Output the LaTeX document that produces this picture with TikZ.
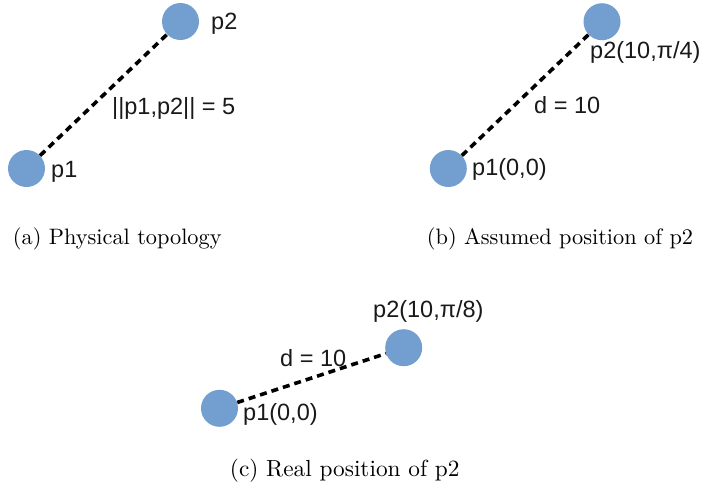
\documentclass[tikz,border=0pt]{standalone}
\usepackage{fontspec}
\newfontfamily\labfont{Liberation Sans}
\definecolor{nodeblue}{HTML}{729FCF}
\begin{document}
\begin{tikzpicture}[x=1pt,y=-1pt,
  ptnode/.style={circle,fill=nodeblue,minimum size=37pt,inner sep=0pt},
  lab/.style={anchor=base west,inner sep=0pt,font=\labfont\fontsize{23.5}{28}\selectfont,text=black!90},
  captext/.style={anchor=base west,inner sep=0pt,scale=2.23,transform shape,font=\fontsize{10}{12}\selectfont},
  link/.style={draw=black,line width=3.6pt,dash pattern=on 7pt off 5pt}]
\useasboundingbox (0,0) rectangle (701,488);
% (a)
\node[ptnode] (a1) at (26.5,168.5) {};
\node[ptnode] (a2) at (180.5,21.5) {};
\draw[link] (a1) -- (a2);
\node[lab] (a1l) at (51,177) {p1};
\node[lab] (a2l) at (211,29) {p2};
\node[lab] (adl) at (112,114) {||p1,p2|| = 5};
\node[captext] (acap) at (12.5,244) {(a) Physical topology};
% (b)
\node[ptnode] (b1) at (448.3,168.5) {};
\node[ptnode] (b2) at (602,21.7) {};
\draw[link] (b1) -- (b2);
\node[lab] (b1l) at (472,175) {p1(0,0)};
\node[lab] (b2l) at (590,58) {p2(10,π/4)};
\node[lab] (bdl) at (534,113) {d = 10};
\node[captext] (bcap) at (426.5,244) {(b) Assumed position of p2};
% (c)
\node[ptnode] (c1) at (219.5,408.3) {};
\node[ptnode] (c2) at (403.7,347.7) {};
\draw[link] (c1) -- (c2);
\node[lab] (c1l) at (243,420) {p1(0,0)};
\node[lab] (c2l) at (373,317) {p2(10,π/8)};
\node[lab] (cdl) at (280,366) {d = 10};
\node[captext,scale=2.33/2.23] (ccap) at (229.5,476) {(c) Real position of p2};
\end{tikzpicture}
\end{document}
